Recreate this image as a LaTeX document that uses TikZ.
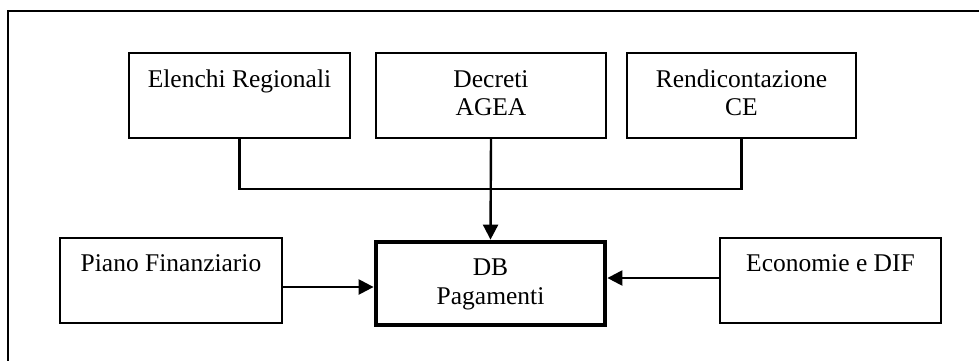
\documentclass[tikz,border=0pt]{standalone}
\usepackage{fontspec}
\setmainfont{Liberation Serif}
\usetikzlibrary{arrows.meta}
\begin{document}
\begin{tikzpicture}[x=1pt,y=-1pt,
  box/.style={draw,line width=1.9pt,inner sep=0pt,minimum height=85pt},
  dbbox/.style={draw,line width=4.8pt,inner sep=0pt,minimum width=229pt,minimum height=83pt},
  txt/.style={anchor=base,inner sep=0pt,font=\fontsize{25.5}{29}\selectfont},
  conn/.style={line width=2.4pt},
  arr/.style={line width=2.4pt,-{Triangle[length=15pt,width=15pt]}}]
\useasboundingbox (0,0) rectangle (979,360);
% outer frame (partly outside the page)
\draw[line width=1.9pt] (8,365) -- (8,11) -- (985,11);
% boxes
\node[box,minimum width=221pt] (E) at (239.5,95.5) {};
\node[box,minimum width=230pt] (D) at (491,95.5) {};
\node[box,minimum width=229pt] (R) at (741.5,95.5) {};
\node[box,minimum width=222pt] (P) at (171,280.5) {};
\node[dbbox] (DB) at (490.5,283.5) {};
\node[box,minimum width=221pt] (Ec) at (830.5,280.5) {};
% texts
\node[txt] (tE) at (239.5,87) {Elenchi Regionali};
\node[txt] (tD1) at (491,87) {Decreti};
\node[txt] (tD2) at (491,115.5) {AGEA};
\node[txt] (tR1) at (741.5,87) {Rendicontazione};
\node[txt] (tR2) at (741.5,115.5) {CE};
\node[txt] (tP) at (171,271) {Piano Finanziario};
\node[txt] (tDB1) at (490.5,275) {DB};
\node[txt] (tDB2) at (490.5,304) {Pagamenti};
\node[txt] (tEc) at (830.5,271) {Economie e DIF};
% connectors
\coordinate (j) at (491,189);
\draw[conn] (E.south) |- (j) -| (R.south);
\draw[arr] (D.south) -- (DB.north);
\draw[arr] ([yshift=-6.5pt]P.east) -- ([yshift=-6.5pt]P.east -| DB.west);
\draw[arr] ([yshift=2.5pt]Ec.west) -- ([yshift=2.5pt]Ec.west -| DB.east);
\end{tikzpicture}
\end{document}
